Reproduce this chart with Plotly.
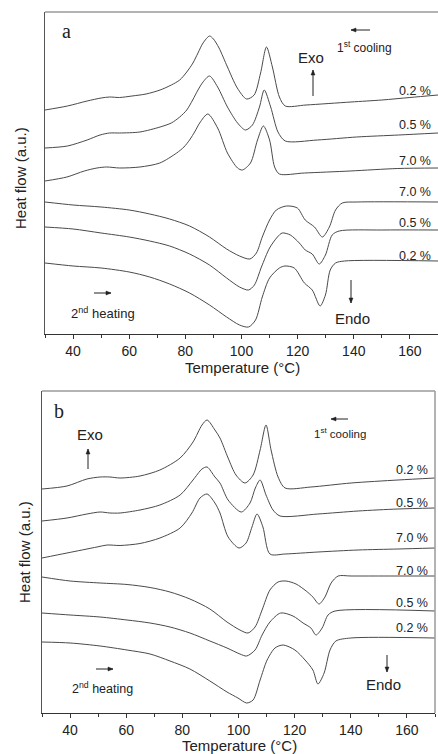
import plotly.graph_objects as go

W, H = 438, 754

# ---------------- data (heat flow in arbitrary units, curves stacked) -------------
# Panel a
a_cool02_T = [30, 38, 45, 50, 53, 56.5, 61, 66, 71, 75, 78, 80.5, 82.7, 84.5, 86.3, 88.6, 90, 92, 95, 98.5, 101.8, 104.5, 106.8, 108.9, 111, 113.5, 115.6, 123, 139, 150, 160, 170]
a_cool02_H = [224, 228, 233, 236, 237, 236.5, 238, 240, 244, 249, 254, 262, 271, 281, 291, 298, 295, 286, 267, 246, 235, 239, 261, 287, 267, 237, 228, 229, 232, 234, 236.5, 239]
a_cool05_T = [30, 38, 45, 49.6, 53, 56.6, 63.8, 71, 75, 78, 80.5, 82.6, 84.5, 86.3, 88.6, 91.5, 95, 98.6, 101.4, 103.9, 106.4, 108.1, 110.4, 113, 115.6, 127, 141, 156, 170]
a_cool05_H = [186, 188, 194, 199, 201, 201, 202, 207, 211, 217, 224, 234, 244, 252, 258, 247, 227, 211, 204, 209, 227, 244, 227, 202, 193, 194, 197, 199, 201]
a_cool70_T = [30, 37.8, 44, 48.5, 52, 56.6, 63.8, 70.9, 76.9, 79.5, 81.5, 83.5, 85.1, 88, 91.5, 95, 98.6, 100.3, 103.2, 105.7, 107.8, 110, 111.8, 113.5, 122.4, 138.7, 155.7, 170]
a_cool70_H = [153, 157, 163, 166, 167, 166, 167, 171, 181, 187, 194, 203, 211, 220, 206, 181, 166, 164, 171, 194, 208, 194, 167, 160, 161, 163, 165.5, 166]
a_heat70_T = [30, 40, 50, 60, 67.3, 74.4, 81.5, 88.6, 94.7, 99.3, 103, 105.3, 107.4, 110, 112.4, 116, 119.9, 122.7, 126, 128.8, 131.3, 133.5, 135.9, 141.2, 170]
a_heat70_H = [132, 129, 127, 124, 120, 115, 108, 97, 85, 78, 75, 81, 97, 114, 124, 128, 126, 114, 107, 97, 107, 124, 131, 132, 132]
a_heat05_T = [30, 40, 50, 60, 67.3, 74.4, 81.5, 88.6, 94.7, 99.3, 102.5, 104.6, 107.1, 110, 112.8, 114.5, 117.4, 120.6, 122.7, 125.2, 127.7, 129.9, 132.3, 134.8, 150, 170]
a_heat05_H = [107, 105, 101, 97, 93, 88, 80, 69, 56, 47, 44, 49, 67, 86, 97, 101, 99, 91, 84, 80, 70, 79, 99, 103, 104, 104]
a_heat02_T = [30, 40, 50, 60, 67.3, 74.4, 81.5, 88.6, 94.7, 99.3, 102.5, 105, 107.4, 110, 113.5, 115.5, 118.8, 122.4, 125.2, 128, 129.9, 131.6, 133.5, 136.7, 170]
a_heat02_H = [71, 68, 66, 62, 57, 50, 41, 29, 17, 9, 7, 14, 37, 56, 66, 68, 66, 51, 44, 28, 39, 64, 71, 73, 73]

# Panel b
b_cool02_T = [30, 38.9, 46, 50.7, 54.2, 57.8, 64.9, 72, 79.2, 83.8, 87, 88.8, 91.6, 93.4, 96.3, 99.1, 102.3, 105.2, 107.7, 109.8, 111.6, 114.1, 116.6, 125.8, 140.1, 156.8, 170]
b_cool02_H = [224, 227, 234, 236, 236, 235, 237, 243, 255, 271, 288, 293, 283, 275, 255, 238, 230, 238, 263, 288, 263, 236, 225, 226, 230, 233, 235]
b_cool05_T = [30, 38.9, 46, 50.7, 54.2, 57.8, 64.9, 72, 79.2, 83.8, 87, 88.8, 91.6, 93.4, 96.3, 101, 104.1, 106, 107.7, 109.8, 112.3, 114.8, 128.3, 142.6, 156.8, 170]
b_cool05_H = [192, 195, 199, 201, 200, 200, 203, 208, 218, 233, 244, 246, 236, 230, 213, 201, 210, 225, 233, 218, 203, 197, 199, 202, 204, 205]
b_cool70_T = [30, 38.9, 49.6, 53.2, 57.8, 64.9, 72, 79.2, 83.4, 86.3, 88.8, 91.6, 93.4, 96.3, 100.2, 102.7, 104.8, 106.6, 108.7, 111.2, 116.6, 128.3, 142.6, 156.8, 170]
b_cool70_H = [155, 160, 166, 168, 167.5, 169.5, 175, 185, 200, 215, 219, 210, 200, 176, 165, 170, 186, 199, 186, 159, 159, 161, 163, 164, 165]
b_heat70_T = [30, 40, 50.7, 60.3, 68.5, 75.6, 82.7, 89.8, 95.9, 100.5, 103.4, 105.9, 108.4, 111.2, 114.1, 116.9, 120.5, 124.1, 126.5, 128.7, 130.8, 133, 135.5, 140.1, 170]
b_heat70_H = [136, 132, 130, 128.5, 125.5, 121, 114, 104, 91, 83, 80, 86, 103, 123, 131, 132, 129, 122, 116, 109, 116, 130, 137, 137, 137]
b_heat05_T = [30, 40, 50.7, 60.3, 68.5, 75.6, 82.7, 89.8, 95.9, 100.5, 102.9, 105.9, 108.4, 111.2, 115, 119.4, 123, 125.8, 127.6, 129.8, 131.9, 134.4, 170]
b_heat05_H = [100, 98, 96, 93, 90, 86, 80, 72, 65, 59, 57, 63, 78, 91, 100, 97, 90, 85, 78, 85, 98, 102, 102]
b_heat02_T = [30, 40, 50.7, 60.3, 68.5, 75.6, 82.7, 89.8, 95.9, 99.8, 102.9, 105.2, 107.7, 110.2, 113, 115.9, 120.1, 123.7, 126.5, 128.3, 130.5, 132.6, 134.7, 140, 170]
b_heat02_H = [71, 70, 67, 63, 59, 52, 44, 32, 21, 15, 10, 13, 33, 53, 65, 68, 63, 53, 43, 29, 40, 63, 72, 75, 75]

x_ticks = [40, 60, 80, 100, 120, 140, 160]
conc_labels_a = ["0.2 %", "0.5 %", "7.0 %", "7.0 %", "0.5 %", "0.2 %"]
conc_labels_b = ["0.2 %", "0.5 %", "7.0 %", "7.0 %", "0.5 %", "0.2 %"]

# ---------------- helpers ----------------
def px(x):
    return x / W

def py(y):
    return 1 - y / H

LINE = dict(color="#4a4a4a", width=1, shape="spline", smoothing=0.8)
FONT = "Liberation Sans, Arial, sans-serif"
SERIF = "Liberation Serif, Times New Roman, serif"
INK = "#222"

fig = go.Figure()

panel_a = [(a_cool02_T, a_cool02_H), (a_cool05_T, a_cool05_H), (a_cool70_T, a_cool70_H),
           (a_heat70_T, a_heat70_H), (a_heat05_T, a_heat05_H), (a_heat02_T, a_heat02_H)]
panel_b = [(b_cool02_T, b_cool02_H), (b_cool05_T, b_cool05_H), (b_cool70_T, b_cool70_H),
           (b_heat70_T, b_heat70_H), (b_heat05_T, b_heat05_H), (b_heat02_T, b_heat02_H)]

for (t, h), name in zip(panel_a, conc_labels_a):
    fig.add_trace(go.Scatter(x=t, y=h, mode="lines", line=LINE, name=name,
                             xaxis="x", yaxis="y", showlegend=False, hoverinfo="skip"))
for (t, h), name in zip(panel_b, conc_labels_b):
    fig.add_trace(go.Scatter(x=t, y=h, mode="lines", line=LINE, name=name,
                             xaxis="x2", yaxis="y2", showlegend=False, hoverinfo="skip"))

xaxis_common = dict(range=[30, 170], showline=True, linecolor="#333", linewidth=1,
                    ticks="outside", ticklen=4, tickcolor="#333", tickwidth=1,
                    tickvals=x_ticks, showgrid=False, zeroline=False,
                    tickfont=dict(family=FONT, size=14, color=INK),
                    minor=dict(dtick=10, tick0=30, ticks="outside", ticklen=3,
                               tickcolor="#333", showgrid=False))
yaxis_common = dict(range=[0, 322], showline=True, linecolor="#555", linewidth=1,
                    showticklabels=False, ticks="", showgrid=False, zeroline=False)

fig.update_layout(
    width=W, height=H,
    margin=dict(l=0, r=0, t=0, b=0),
    paper_bgcolor="white", plot_bgcolor="white",
    xaxis=dict(domain=[px(45), 1.0], anchor="y", **xaxis_common),
    yaxis=dict(domain=[py(334), py(12)], anchor="x", **yaxis_common),
    xaxis2=dict(domain=[px(42), px(435)], anchor="y2", **xaxis_common),
    yaxis2=dict(domain=[py(713), py(391)], anchor="x2", **yaxis_common),
)

# borders (top, and right for panel b)
border = dict(color="#9a9a9a", width=1.5)
fig.add_shape(type="line", xref="paper", yref="paper", x0=px(45), x1=1.0, y0=py(12), y1=py(12), line=border)
fig.add_shape(type="line", xref="paper", yref="paper", x0=px(42), x1=px(435), y0=py(391), y1=py(391), line=border)
fig.add_shape(type="line", xref="paper", yref="paper", x0=px(435), x1=px(435), y0=py(391), y1=py(713), line=border)

def text(x, y, s, size, family=FONT, xanchor="center", angle=0):
    fig.add_annotation(x=px(x), y=py(y), xref="paper", yref="paper", text=s, showarrow=False,
                       xanchor=xanchor, yanchor="middle", textangle=angle,
                       font=dict(family=family, size=size, color=INK))

def arrow(hx, hy, tx, ty, head=5, half=2):
    # shaft
    fig.add_shape(type="line", xref="paper", yref="paper", x0=px(tx), y0=py(ty),
                  x1=px(hx), y1=py(hy), line=dict(color=INK, width=1))
    # triangular head
    dx, dy = hx - tx, hy - ty
    L = (dx * dx + dy * dy) ** 0.5
    ux, uy = dx / L, dy / L
    bx, by = hx - ux * head, hy - uy * head
    p1 = (bx - uy * half, by + ux * half)
    p2 = (bx + uy * half, by - ux * half)
    path = "M {} {} L {} {} L {} {} Z".format(px(hx), py(hy), px(p1[0]), py(p1[1]), px(p2[0]), py(p2[1]))
    fig.add_shape(type="path", xref="paper", yref="paper", path=path,
                  fillcolor=INK, line=dict(color=INK, width=0.5))

# panel a texts
text(66, 31, "a", 20, SERIF)
text(311, 58, "Exo", 15)
arrow(313, 70, 313, 96)
text(364, 47, "1<sup>st</sup> cooling", 12)
arrow(351, 30, 370, 30)
text(103, 313, "2<sup>nd</sup> heating", 13)
arrow(111, 293, 94, 293)
text(352, 318, "Endo", 15)
arrow(351, 303, 351, 280)
for lab, yy in zip(conc_labels_a, [91, 125, 161, 192, 223, 256]):
    text(433, yy, lab, 12.5, xanchor="right")
text(242, 368, "Temperature (°C)", 15)
text(21, 178, "Heat flow (a.u.)", 15, angle=-90)

# panel b texts
text(59, 411, "b", 20, SERIF)
text(90, 435, "Exo", 15)
arrow(88, 449, 88, 469)
text(340, 433, "1<sup>st</sup> cooling", 11.5)
arrow(331, 419, 348, 419)
text(102, 688, "2<sup>nd</sup> heating", 12.5)
arrow(113, 669, 96, 669)
text(383, 684, "Endo", 15)
arrow(387, 672, 387, 655)
for lab, yy in zip(conc_labels_b, [470, 503, 538, 571, 603, 628]):
    text(430, yy, lab, 12.5, xanchor="right")
text(239, 745, "Temperature (°C)", 15)
text(24, 552, "Heat flow (a.u.)", 15, angle=-90)

fig.write_html("out.html", config={"displayModeBar": False},
               post_script="document.body.style.margin='0';document.body.style.overflow='hidden';")
